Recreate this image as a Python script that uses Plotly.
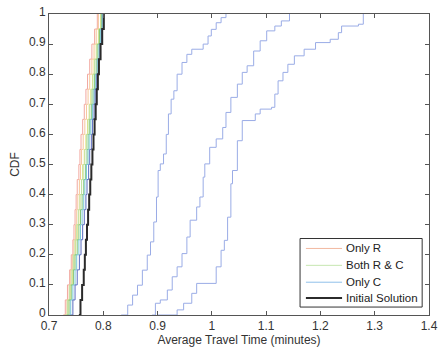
import plotly.graph_objects as go

# CDF levels shared by the clustered curves (left group)
cluster_levels = [0.0, 0.05, 0.1, 0.15, 0.2, 0.25, 0.3, 0.35, 0.4, 0.45, 0.5,
                  0.55, 0.6, 0.65, 0.7, 0.75, 0.8, 0.85, 0.9, 0.95, 1.0]

only_r_a = [0.726, 0.730, 0.734, 0.738, 0.741, 0.744, 0.746, 0.748, 0.750, 0.752, 0.755,
            0.757, 0.759, 0.762, 0.765, 0.768, 0.771, 0.775, 0.779, 0.784, 0.789]
only_r_b = [0.728, 0.733, 0.737, 0.740, 0.743, 0.746, 0.749, 0.751, 0.753, 0.756, 0.758,
            0.760, 0.763, 0.766, 0.769, 0.772, 0.775, 0.779, 0.783, 0.787, 0.791]
only_r_c = [0.731, 0.735, 0.739, 0.743, 0.746, 0.749, 0.752, 0.755, 0.757, 0.760, 0.762,
            0.765, 0.768, 0.771, 0.774, 0.777, 0.780, 0.783, 0.787, 0.791, 0.795]
both_a = [0.729, 0.734, 0.738, 0.742, 0.745, 0.748, 0.751, 0.754, 0.757, 0.760, 0.763,
          0.766, 0.769, 0.772, 0.775, 0.778, 0.781, 0.784, 0.788, 0.792, 0.796]
both_b = [0.733, 0.737, 0.741, 0.745, 0.748, 0.752, 0.755, 0.758, 0.761, 0.764, 0.767,
          0.770, 0.772, 0.775, 0.778, 0.781, 0.784, 0.787, 0.790, 0.793, 0.797]
both_c = [0.736, 0.740, 0.744, 0.748, 0.751, 0.755, 0.758, 0.761, 0.764, 0.766, 0.769,
          0.772, 0.774, 0.777, 0.780, 0.783, 0.786, 0.789, 0.792, 0.795, 0.798]
both_d = [0.740, 0.744, 0.748, 0.752, 0.756, 0.759, 0.762, 0.765, 0.768, 0.770, 0.773,
          0.775, 0.778, 0.780, 0.783, 0.785, 0.788, 0.791, 0.794, 0.797, 0.800]
initial = [0.755, 0.758, 0.761, 0.764, 0.766, 0.768, 0.770, 0.772, 0.774, 0.776, 0.778,
           0.780, 0.782, 0.784, 0.786, 0.788, 0.790, 0.792, 0.795, 0.798, 0.801]

# "Only C" curves (three runs, right side)
only_c1_x = [0.833, 0.845, 0.854, 0.863, 0.872, 0.881, 0.887, 0.893, 0.898, 0.901, 0.905,
             0.911, 0.916, 0.920, 0.925, 0.930, 0.936, 0.945, 0.954, 0.963, 0.984, 0.993,
             0.999, 1.008, 1.017, 1.026]
only_c1_y = [0.0, 0.033, 0.066, 0.099, 0.149, 0.199, 0.243, 0.309, 0.392, 0.48, 0.502,
             0.535, 0.60, 0.668, 0.717, 0.745, 0.80, 0.839, 0.866, 0.883, 0.90, 0.927,
             0.949, 0.971, 0.988, 1.0]
only_c2_x = [0.890, 0.896, 0.905, 0.918, 0.927, 0.936, 0.945, 0.954, 0.960, 0.972, 0.978,
             0.984, 0.987, 0.996, 1.008, 1.020, 1.026, 1.035, 1.047, 1.056, 1.065, 1.077,
             1.089, 1.101, 1.116, 1.128, 1.143]
only_c2_y = [0.0, 0.039, 0.05, 0.083, 0.127, 0.16, 0.204, 0.259, 0.315, 0.359, 0.392,
             0.458, 0.502, 0.557, 0.585, 0.623, 0.673, 0.723, 0.767, 0.806, 0.828, 0.877,
             0.911, 0.944, 0.96, 0.977, 1.0]
only_c3_x = [0.899, 0.936, 0.948, 0.963, 0.972, 1.008, 1.017, 1.023, 1.029, 1.035, 1.038,
             1.047, 1.056, 1.080, 1.089, 1.110, 1.116, 1.122, 1.131, 1.140, 1.152, 1.170,
             1.191, 1.218, 1.233, 1.239, 1.270, 1.279]
only_c3_y = [0.0, 0.017, 0.039, 0.072, 0.105, 0.16, 0.215, 0.248, 0.325, 0.436, 0.48,
             0.579, 0.646, 0.668, 0.684, 0.69, 0.734, 0.778, 0.806, 0.833, 0.861, 0.883,
             0.905, 0.916, 0.938, 0.96, 0.966, 1.0]

x_ticks = [0.7, 0.8, 0.9, 1.0, 1.1, 1.2, 1.3, 1.4]
x_tick_text = ["0.7", "0.8", "0.9", "1", "1.1", "1.2", "1.3", "1.4"]
y_ticks = [0, 0.1, 0.2, 0.3, 0.4, 0.5, 0.6, 0.7, 0.8, 0.9, 1.0]
y_tick_text = ["0", "0.1", "0.2", "0.3", "0.4", "0.5", "0.6", "0.7", "0.8", "0.9", "1"]

legend_names = ["Only R", "Both R & C", "Only C", "Initial Solution"]
legend_colors = ["#f2b8a0", "#c6e6b0", "#8fc0ea", "#2b2b2b"]
legend_widths = [1, 1, 1, 2]

W, H = 443, 349
ML, MR, MT, MB = 49, 5, 12, 34
PW, PH = W - ML - MR, H - MT - MB

def px_x(p):
    return (p - ML) / PW

def px_y(p):
    return (H - MB - p) / PH

fig = go.Figure()

def step(x, y, color, width=1.0):
    fig.add_trace(go.Scatter(
        x=x, y=y, mode="lines", line=dict(color=color, width=width, shape="hv"),
        showlegend=False, hoverinfo="skip"))

step(only_r_a, cluster_levels, "#f2a8a0")
step(only_r_b, cluster_levels, "#f5c79a")
step(only_r_c, cluster_levels, "#e8df7a")
step(both_a, cluster_levels, "#bfe3a8")
step(both_b, cluster_levels, "#86c77a")
step(both_c, cluster_levels, "#7cc9d6")
step(both_d, cluster_levels, "#5a6cc0")
step(only_c1_x, only_c1_y, "#9aace6")
step(only_c2_x, only_c2_y, "#9aace6")
step(only_c3_x, only_c3_y, "#9aace6")
step(initial, cluster_levels, "#2b2b2b", width=2)

FONT = "Liberation Sans, Arial, sans-serif"

# legend drawn as box + line samples + real text
shapes = [dict(type="rect", xref="paper", yref="paper",
               x0=px_x(306), x1=px_x(431), y0=px_y(307), y1=px_y(238),
               line=dict(color="#333333", width=1), fillcolor="white", layer="above")]
annotations = []
row_y = [248, 265, 282, 298]
for name, col, lw, ry in zip(legend_names, legend_colors, legend_widths, row_y):
    shapes.append(dict(type="line", xref="paper", yref="paper",
                       x0=px_x(312), x1=px_x(349), y0=px_y(ry), y1=px_y(ry),
                       line=dict(color=col, width=lw), layer="above"))
    annotations.append(dict(text=name, xref="paper", yref="paper",
                            x=px_x(351), y=px_y(ry), xanchor="left", yanchor="middle",
                            showarrow=False, font=dict(family=FONT, size=11.5, color="#222222")))

axis_common = dict(
    showline=True, linecolor="#555555", linewidth=1, mirror="ticks",
    ticks="inside", ticklen=4, tickcolor="#555555", showgrid=False, zeroline=False,
    ticklabeloverflow="allow",
    tickfont=dict(family=FONT, size=12, color="#333333"),
)

fig.update_layout(
    width=W, height=H,
    margin=dict(l=ML, r=MR, t=MT, b=MB),
    paper_bgcolor="white", plot_bgcolor="white",
    xaxis=dict(range=[0.7, 1.4], tickvals=x_ticks, ticktext=x_tick_text,
               title=dict(text="Average Travel Time (minutes)", standoff=0,
                          font=dict(family=FONT, size=12, color="#333333")),
               **axis_common),
    yaxis=dict(range=[0, 1], tickvals=y_ticks, ticktext=y_tick_text,
               ticklabelshift=-2,
               title=dict(text="CDF", standoff=6,
                          font=dict(family=FONT, size=12, color="#333333")),
               **axis_common),
    shapes=shapes,
    annotations=annotations,
    showlegend=False,
)

fig.write_html("out.html")
